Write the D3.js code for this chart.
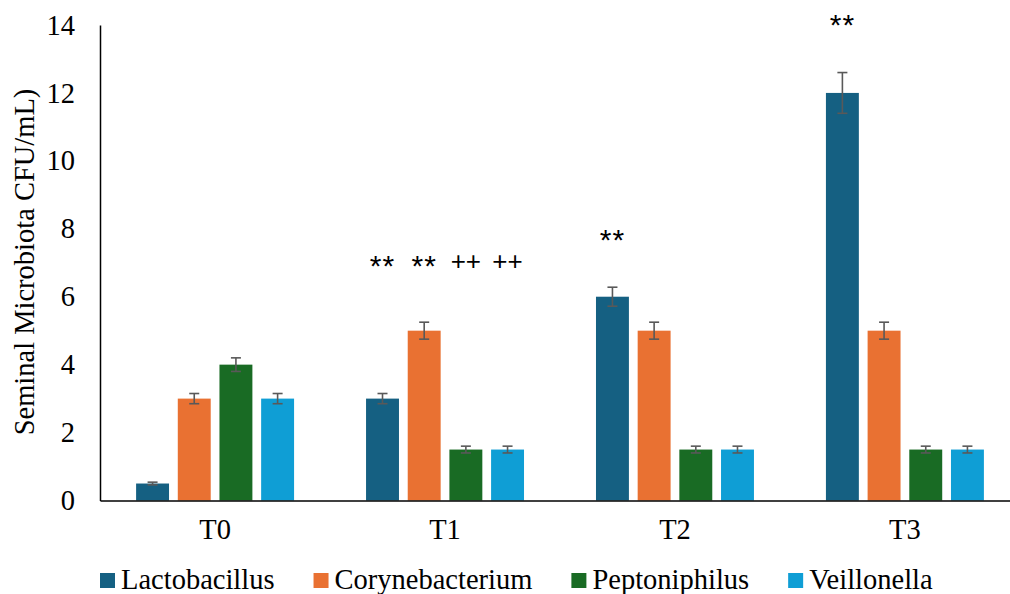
<!DOCTYPE html>
<html>
<head>
<meta charset="utf-8">
<script src="https://cdn.jsdelivr.net/npm/d3@7"></script>
<style>
  html, body { margin: 0; padding: 0; background: #fff; overflow: hidden; }
</style>
</head>
<body>
<div id="chart"></div>
<script>

// data
var categories = ['T0', 'T1', 'T2', 'T3'];
var seriesNames = ['Lactobacillus', 'Corynebacterium', 'Peptoniphilus', 'Veillonella'];
var seriesColors = ['#156082', '#E97132', '#196B24', '#0F9ED5'];

var lactobacillus = [0.5, 3, 6, 12];
var corynebacterium = [3, 5, 5, 5];
var peptoniphilus = [4, 1.5, 1.5, 1.5];
var veillonella = [3, 1.5, 1.5, 1.5];

var lactobacillusErr = [0.04, 0.15, 0.28, 0.6];
var corynebacteriumErr = [0.15, 0.25, 0.25, 0.25];
var peptoniphilusErr = [0.2, 0.1, 0.1, 0.1];
var veillonellaErr = [0.15, 0.1, 0.1, 0.1];

var yTicks = [0, 2, 4, 6, 8, 10, 12, 14];

// significance marks: category, series, label, value level
var marks = [
  ['T1', 'Lactobacillus', '**', 7.0],
  ['T1', 'Corynebacterium', '**', 7.0],
  ['T1', 'Peptoniphilus', '++', 7.0],
  ['T1', 'Veillonella', '++', 7.0],
  ['T2', 'Lactobacillus', '**', 7.75],
  ['T3', 'Lactobacillus', '**', 14.1]
];

function getChart() {
  var attrs = {
    svgWidth: 1010,
    svgHeight: 594,
    serif: '"Liberation Serif", "Times New Roman", serif',
    sans: '"Liberation Sans", Arial, sans-serif',
    fontSize: 28.5,
    plotLeft: 100,
    plotRight: 1020,
    plotTop: 25,
    plotBottom: 500.5
  };

  var values = [lactobacillus, corynebacterium, peptoniphilus, veillonella];
  var errors = [lactobacillusErr, corynebacteriumErr, peptoniphilusErr, veillonellaErr];

  var rows = categories.map((c, i) => ({
    cat: c,
    bars: seriesNames.map((s, j) => ({ cat: c, name: s, value: values[j][i], err: errors[j][i], color: seriesColors[j] }))
  }));

  var svg = d3.select('#chart')
    .append('svg')
    .attr('width', attrs.svgWidth)
    .attr('height', attrs.svgHeight)
    .style('display', 'block');

  // scales
  var x0 = d3.scaleBand()
    .domain(categories)
    .range([attrs.plotLeft, attrs.plotRight])
    .paddingInner(0.313)
    .paddingOuter(0.157);

  var x1 = d3.scaleBand()
    .domain(seriesNames)
    .range([0, x0.bandwidth()])
    .paddingInner(0.21)
    .paddingOuter(0);

  var y = d3.scaleLinear()
    .domain([0, 14])
    .range([attrs.plotBottom, attrs.plotTop]);

  // bars
  var groups = svg.append('g')
    .selectAll('.group')
    .data(rows)
    .enter()
    .append('g')
    .attr('class', 'group')
    .attr('transform', d => `translate(${x0(d.cat)},0)`);

  groups.selectAll('rect')
    .data(d => d.bars)
    .enter()
    .append('rect')
    .attr('x', d => x1(d.name))
    .attr('y', d => y(d.value))
    .attr('width', x1.bandwidth())
    .attr('height', d => y(0) - y(d.value))
    .attr('fill', d => d.color);

  // error bars
  var errG = groups.selectAll('.err')
    .data(d => d.bars)
    .enter()
    .append('g')
    .attr('class', 'err')
    .attr('stroke', '#595959')
    .attr('stroke-width', 1.6)
    .attr('transform', d => `translate(${x1(d.name) + x1.bandwidth() / 2},0)`);

  errG.append('line')
    .attr('y1', d => y(d.value + d.err))
    .attr('y2', d => y(d.value - d.err));
  errG.append('line')
    .attr('x1', -5).attr('x2', 5)
    .attr('y1', d => y(d.value + d.err))
    .attr('y2', d => y(d.value + d.err));
  errG.append('line')
    .attr('x1', -5).attr('x2', 5)
    .attr('y1', d => y(d.value - d.err))
    .attr('y2', d => y(d.value - d.err));

  // y axis
  var yAxis = svg.append('g')
    .attr('transform', `translate(${attrs.plotLeft},0)`)
    .call(d3.axisLeft(y).tickValues(yTicks).tickSize(0).tickPadding(25).tickFormat(d3.format('d')));
  yAxis.select('.domain').attr('stroke', '#000').attr('stroke-width', 1.5);
  yAxis.selectAll('text')
    .attr('font-family', attrs.serif)
    .attr('font-size', attrs.fontSize)
    .attr('fill', '#000');

  // x axis
  var xAxis = svg.append('g')
    .attr('transform', `translate(0,${y(0)})`)
    .call(d3.axisBottom(x0).tickSize(0).tickPadding(18));
  xAxis.select('.domain').attr('stroke', '#000').attr('stroke-width', 1.5);
  xAxis.selectAll('text')
    .attr('font-family', attrs.serif)
    .attr('font-size', attrs.fontSize)
    .attr('fill', '#000');

  // y title
  svg.append('text')
    .attr('transform', `translate(34,262) rotate(-90)`)
    .attr('text-anchor', 'middle')
    .attr('font-family', attrs.serif)
    .attr('font-size', 28.5)
    .attr('fill', '#000')
    .text('Seminal Microbiota CFU/mL)');

  // significance marks
  svg.append('g')
    .selectAll('text')
    .data(marks)
    .enter()
    .append('text')
    .attr('x', d => x0(d[0]) + x1(d[1]) + x1.bandwidth() / 2)
    .attr('y', d => y(d[3]) + (d[2] == '**' ? 13 : 7))
    .attr('text-anchor', 'middle')
    .attr('font-family', attrs.sans)
    .attr('font-size', d => d[2] == '**' ? 30 : 26)
    .attr('letter-spacing', d => d[2] == '**' ? 1 : 0)
    .attr('fill', '#000')
    .text(d => d[2]);

  // legend
  var legend = svg.append('g').attr('transform', 'translate(0,589)');
  var items = legend.selectAll('.item')
    .data(seriesNames)
    .enter()
    .append('g')
    .attr('class', 'item');
  items.append('rect')
    .attr('y', -16)
    .attr('width', 15)
    .attr('height', 15)
    .attr('fill', (d, i) => seriesColors[i]);
  items.append('text')
    .attr('x', 21)
    .attr('font-family', attrs.serif)
    .attr('font-size', attrs.fontSize)
    .attr('fill', '#000')
    .text(d => d);

  var cursor = 100;
  items.each(function () {
    var w = d3.select(this).select('text').node().getComputedTextLength();
    d3.select(this).attr('transform', `translate(${cursor},0)`);
    cursor += 21 + w + 39;
  });
}

getChart();
</script>
</body>
</html>
